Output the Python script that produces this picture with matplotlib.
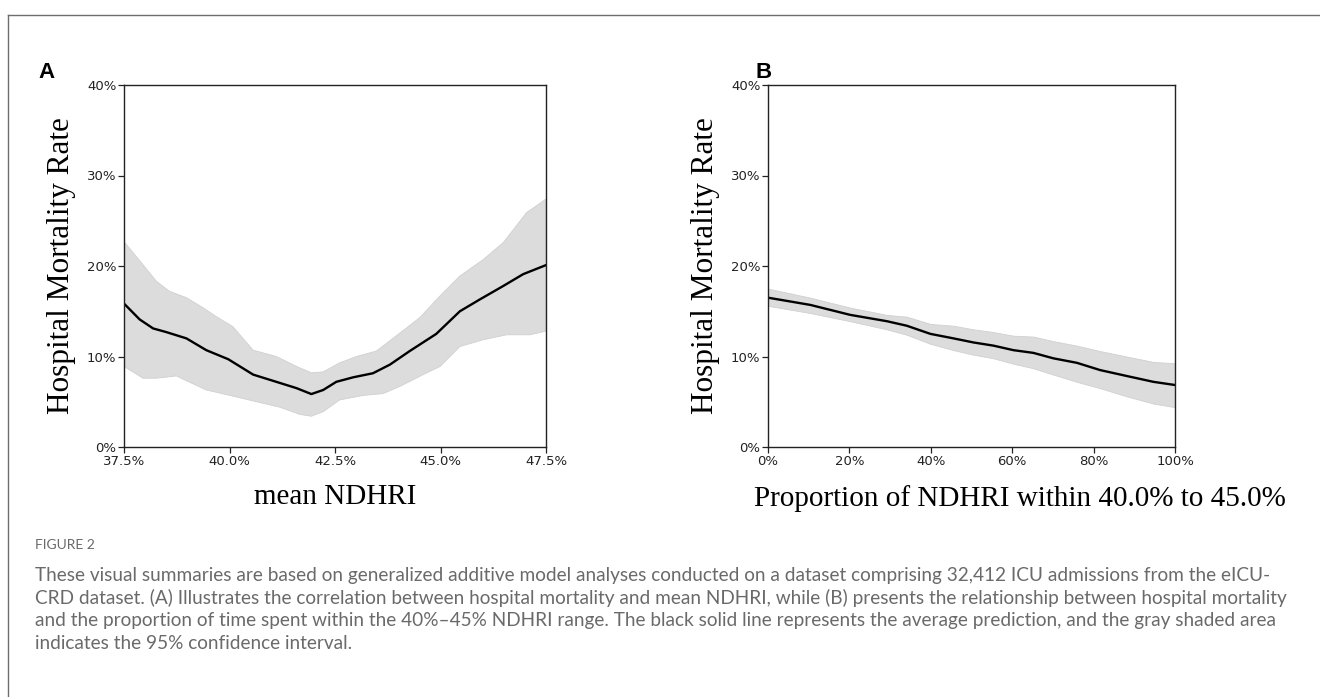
import matplotlib
matplotlib.use("Agg")
import matplotlib.pyplot as plt
from matplotlib.lines import Line2D
from matplotlib.ticker import FuncFormatter

# ---------------- data (percent values) ----------------
a_x_mean = [37.5, 37.87, 38.19, 38.5, 38.98, 39.45, 39.97, 40.56, 41.11, 41.59, 41.94,
            42.22, 42.53, 42.93, 43.4, 43.8, 44.27, 44.9, 45.46, 45.93, 46.49, 46.96, 47.5]
a_mean = [15.85, 14.1, 13.1, 12.7, 12.0, 10.7, 9.7, 8.0, 7.2, 6.5, 5.85,
          6.3, 7.2, 7.7, 8.15, 9.1, 10.6, 12.5, 15.0, 16.3, 17.8, 19.1, 20.1]
a_x_upper = [37.5, 37.87, 38.27, 38.58, 38.98, 39.37, 39.69, 40.08, 40.56, 41.11, 41.59, 41.94,
             42.22, 42.61, 43.01, 43.48, 44.04, 44.51, 44.99, 45.46, 46.01, 46.49, 47.04, 47.5]
a_upper = [22.7, 20.6, 18.3, 17.2, 16.5, 15.4, 14.4, 13.3, 10.7, 10.0, 8.9, 8.2,
           8.3, 9.3, 10.0, 10.6, 12.6, 14.3, 16.7, 18.9, 20.7, 22.6, 25.9, 27.4]
a_x_lower = [37.5, 37.95, 38.27, 38.74, 39.45, 40.01, 40.64, 41.19, 41.67, 41.94, 42.22,
             42.61, 43.17, 43.64, 44.04, 44.59, 44.99, 45.46, 46.01, 46.57, 47.12, 47.5]
a_lower = [8.9, 7.6, 7.6, 7.85, 6.3, 5.7, 5.0, 4.4, 3.6, 3.4, 3.9,
           5.2, 5.7, 5.9, 6.7, 8.0, 8.9, 11.1, 11.85, 12.4, 12.4, 12.8]

b_x = [0, 10.4, 20.2, 29.2, 34.1, 39.9, 45.6, 50.5, 55.4, 60.3, 65.2, 70.1, 75.9, 81.6, 88.1, 94.7, 100]
b_mean = [16.5, 15.7, 14.6, 13.9, 13.4, 12.5, 12.0, 11.55, 11.2, 10.7, 10.4, 9.8, 9.3, 8.5, 7.85, 7.2, 6.85]
b_upper = [17.5, 16.5, 15.4, 14.6, 14.4, 13.6, 13.4, 13.0, 12.7, 12.3, 12.2, 11.7, 11.2, 10.6, 10.0, 9.4, 9.25]
b_lower = [15.6, 14.8, 13.9, 13.0, 12.4, 11.4, 10.7, 10.2, 9.8, 9.2, 8.7, 8.0, 7.2, 6.5, 5.6, 4.8, 4.4]

a_xticks = [37.5, 40.0, 42.5, 45.0, 47.5]
b_xticks = [0, 20, 40, 60, 80, 100]
yticks = [0, 10, 20, 30, 40]

panel_labels = ["A", "B"]
ylabel = "Hospital Mortality Rate"
xlabels = ["mean NDHRI", "Proportion of NDHRI within 40.0% to 45.0%"]

caption_title = "FIGURE 2"
caption_lines = [
    "These visual summaries are based on generalized additive model analyses conducted on a dataset comprising 32,412 ICU admissions from the eICU-",
    "CRD dataset. (A) Illustrates the correlation between hospital mortality and mean NDHRI, while (B) presents the relationship between hospital mortality",
    "and the proportion of time spent within the 40%\u201345% NDHRI range. The black solid line represents the average prediction, and the gray shaded area",
    "indicates the 95% confidence interval.",
]

# ---------------- figure ----------------
W, H = 1320, 697
fig = plt.figure(figsize=(W / 100, H / 100), dpi=100)
fig.patch.set_facecolor("white")


def fx(px):
    return px / W


def fy(py):
    return 1 - py / H


# outer frame (left and top border)
frame_col = "#6e6e6e"
fig.add_artist(Line2D([fx(8), fx(8)], [fy(15), 0], transform=fig.transFigure, color=frame_col, lw=1.0))
fig.add_artist(Line2D([fx(8), 1], [fy(15), fy(15)], transform=fig.transFigure, color=frame_col, lw=1.0))

top_px, bot_px = 85, 447
axA = fig.add_axes([fx(124), fy(bot_px), fx(546 - 124), (bot_px - top_px) / H])
axB = fig.add_axes([fx(768), fy(bot_px), fx(1175 - 768), (bot_px - top_px) / H])

band_col = "#dcdcdc"

for ax, xt, xl, fmt in [
    (axA, a_xticks, xlabels[0], lambda v, p: f"{v:.1f}%"),
    (axB, b_xticks, xlabels[1], lambda v, p: f"{v:.0f}%"),
]:
    ax.set_ylim(0, 40)
    ax.set_yticks(yticks)
    ax.yaxis.set_major_formatter(FuncFormatter(lambda v, p: f"{v:.0f}%"))
    ax.set_xticks(xt)
    ax.xaxis.set_major_formatter(FuncFormatter(fmt))
    ax.tick_params(axis="both", direction="out", length=4, width=0.9, pad=1.5,
                   labelsize=9.5, labelcolor="#222222", color="#222222")
    for lab in ax.get_xticklabels() + ax.get_yticklabels():
        lab.set_fontfamily("DejaVu Sans")
    for s in ax.spines.values():
        s.set_linewidth(1.0)
        s.set_color("#222222")
    ax.set_ylabel(ylabel, family="Liberation Serif", fontsize=22.5, labelpad=8)
    ax.set_xlabel(xl, family="Liberation Serif", fontsize=21, labelpad=12)

# panel B's x label sits right of the axes centre in the original
axB.xaxis.set_label_coords((1020 - 768) / (1175 - 768), -0.105)

# Panel A
axA.set_xlim(a_xticks[0], a_xticks[-1])
axA.fill(a_x_upper + a_x_lower[::-1], a_upper + a_lower[::-1], color=band_col, lw=0.6, ec="#d0d0d0")
axA.plot(a_x_mean, a_mean, color="black", lw=1.7, solid_joinstyle="round")

# Panel B
axB.set_xlim(b_xticks[0], b_xticks[-1])
axB.fill_between(b_x, b_lower, b_upper, color=band_col, lw=0.6, ec="#d0d0d0")
axB.plot(b_x, b_mean, color="black", lw=1.7, solid_joinstyle="round")

# Panel letters
fig.text(fx(38), fy(73), panel_labels[0], fontsize=16, fontweight="bold", family="Liberation Sans",
         va="center", ha="left")
fig.text(fx(755), fy(73), panel_labels[1], fontsize=16, fontweight="bold", family="Liberation Sans",
         va="center", ha="left")

# Caption
cap_col = "#6a6a6a"
fig.text(fx(35), fy(545), caption_title, fontsize=10, family="Lato", color=cap_col, va="center", ha="left")
for i, line in enumerate(caption_lines):
    fig.text(fx(35), fy(576 + 22.4 * i), line, fontsize=13.65, family="Lato", color=cap_col,
             va="center", ha="left")

fig.savefig("out.png", dpi=100, facecolor="white")
